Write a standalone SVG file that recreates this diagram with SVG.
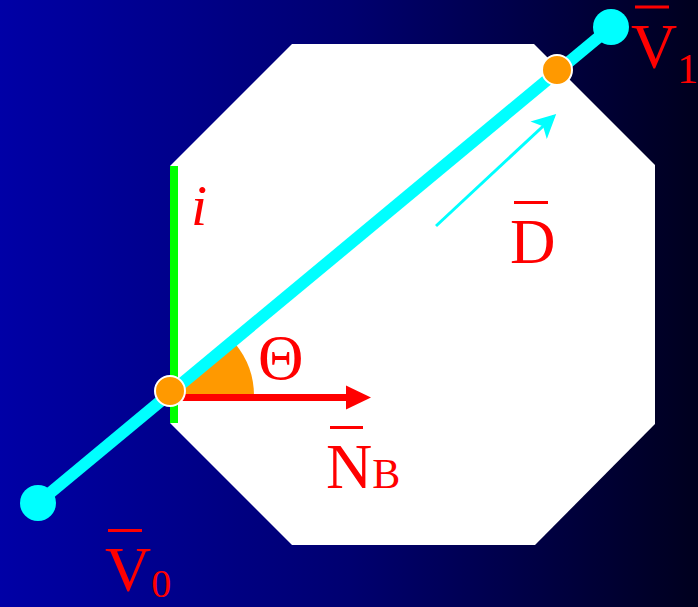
<svg xmlns="http://www.w3.org/2000/svg" width="698" height="607" viewBox="0 0 698 607">
<defs>
<linearGradient id="bg" x1="0" y1="0" x2="1" y2="0">
<stop offset="0" stop-color="#0000A6"/>
<stop offset="0.5" stop-color="#000070"/>
<stop offset="1" stop-color="#00001E"/>
</linearGradient>
<marker id="headD" markerWidth="8" markerHeight="8" refX="7" refY="4" orient="auto" markerUnits="strokeWidth">
<path d="M0,0 L8,4 L0,8 L2,4 Z" fill="#00FFFF"/>
</marker>
</defs>
<style>
.lbl{font-family:"Liberation Serif","Times New Roman",serif;fill:#FF0000}
.bar{fill:#FF0000}
</style>
<rect id="background" x="0" y="0" width="698" height="607" fill="url(#bg)"/>
<g id="octagon">
<polygon points="292,44 534,44 655,165 655,424 535,545 292,545 170,423 170,166" fill="#FFFFFF"/>
</g>
<g id="edge-i">
<rect x="170" y="166" width="8" height="257" fill="#00FF00"/>
<text class="lbl" x="191" y="225" font-size="58" font-style="italic">i</text>
</g>
<g id="angle">
<path d="M172,396 L254,396 A82,82 0 0 0 235,343.6 Z" fill="#FF9900"/>
<text class="lbl" x="258" y="379" font-size="63">Θ</text>
</g>
<g id="connectors">
<line x1="38" y1="503" x2="611" y2="27" stroke="#00FFFF" stroke-width="12"/>
<line x1="172" y1="397.5" x2="350" y2="397.5" stroke="#FF0000" stroke-width="7"/>
<polygon points="346,385.5 371,397.5 346,409.5" fill="#FF0000"/>
<line x1="436" y1="226" x2="554" y2="116" stroke="#00FFFF" stroke-width="3" marker-end="url(#headD)"/>
</g>
<g id="V0">
<circle cx="38" cy="503" r="18" fill="#00FFFF"/>
<rect class="bar" x="108" y="529" width="34" height="3"/>
<text class="lbl" x="105" y="591" font-size="64">V<tspan dy="6" font-size="40">0</tspan></text>
</g>
<g id="V1">
<circle cx="611" cy="27" r="18" fill="#00FFFF"/>
<rect class="bar" x="635" y="5.5" width="34" height="3"/>
<text class="lbl" x="631" y="68" font-size="64">V<tspan dy="15" font-size="42">1</tspan></text>
</g>
<g id="P0">
<circle cx="170" cy="391" r="15" fill="#FF9900" stroke="#FFFFFF" stroke-width="2"/>
</g>
<g id="P1">
<circle cx="557" cy="70" r="15" fill="#FF9900" stroke="#FFFFFF" stroke-width="2"/>
</g>
<g id="D">
<rect class="bar" x="514" y="201" width="34" height="3"/>
<text class="lbl" x="510" y="263" font-size="63">D</text>
</g>
<g id="NB">
<rect class="bar" x="330" y="426" width="33" height="3"/>
<text class="lbl" x="326" y="488" font-size="64">N<tspan font-size="42">B</tspan></text>
</g>
</svg>
